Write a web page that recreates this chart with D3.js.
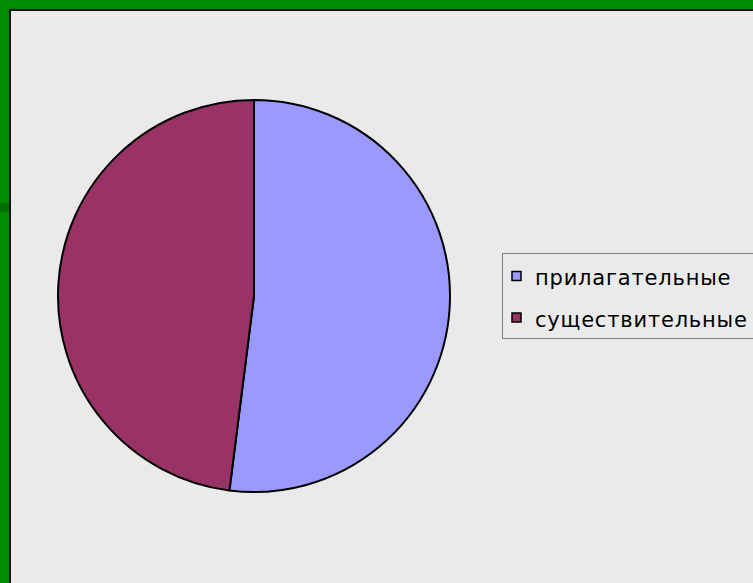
<!DOCTYPE html>
<html><head><meta charset="utf-8">
<script src="https://cdn.jsdelivr.net/npm/d3@7"></script>
<style>html,body{margin:0;padding:0;background:#eaeaea;overflow:hidden}</style>
</head><body>
<script>
const categories = ["прилагательные", "существительные"];
const values = [52, 48];
const colors = ["#9999FF", "#993366"];

const W = 753, H = 583;
const svg = d3.select("body").append("svg").attr("width", W).attr("height", H);

// frame
svg.append("rect").attr("x", 0).attr("y", 0).attr("width", W).attr("height", H).attr("fill", "#008C00");
svg.append("rect").attr("x", 0).attr("y", 203).attr("width", 9).attr("height", 9).attr("fill", "#007000");
svg.append("rect").attr("x", 10).attr("y", 10).attr("width", W).attr("height", H).attr("fill", "#eaeaea")
  .attr("stroke", "#111").attr("stroke-width", 2);

const cx = 254, cy = 296, r = 196;
const pie = d3.pie().sort(null).value(d => d)(values);
const arc = d3.arc().innerRadius(0).outerRadius(r);
const g = svg.append("g").attr("transform", `translate(${cx},${cy})`);
g.selectAll("path").data(pie).join("path")
  .attr("d", arc).attr("fill", (d, i) => colors[i])
  .attr("stroke", "#000").attr("stroke-width", 2).attr("stroke-linejoin", "round");

// legend
const lg = svg.append("g");
lg.append("rect").attr("x", 502.5).attr("y", 253.5).attr("width", 300).attr("height", 85)
  .attr("fill", "#eaeaea").attr("stroke", "#808080").attr("stroke-width", 1);
const item = lg.selectAll("g.it").data(categories).join("g").attr("class", "it")
  .attr("transform", (d, i) => `translate(0,${i * 41.5})`);
item.append("rect").attr("x", 512).attr("y", 271.5).attr("width", 9).attr("height", 9)
  .attr("fill", (d, i) => colors[i]).attr("stroke", "#000").attr("stroke-width", 1.5);
item.append("text").attr("x", 535).attr("y", 285)
  .attr("font-family", "DejaVu Sans, sans-serif").attr("font-size", 21).attr("letter-spacing", 0.8)
  .attr("fill", "#000")
  .text(d => d);
</script>
</body></html>
